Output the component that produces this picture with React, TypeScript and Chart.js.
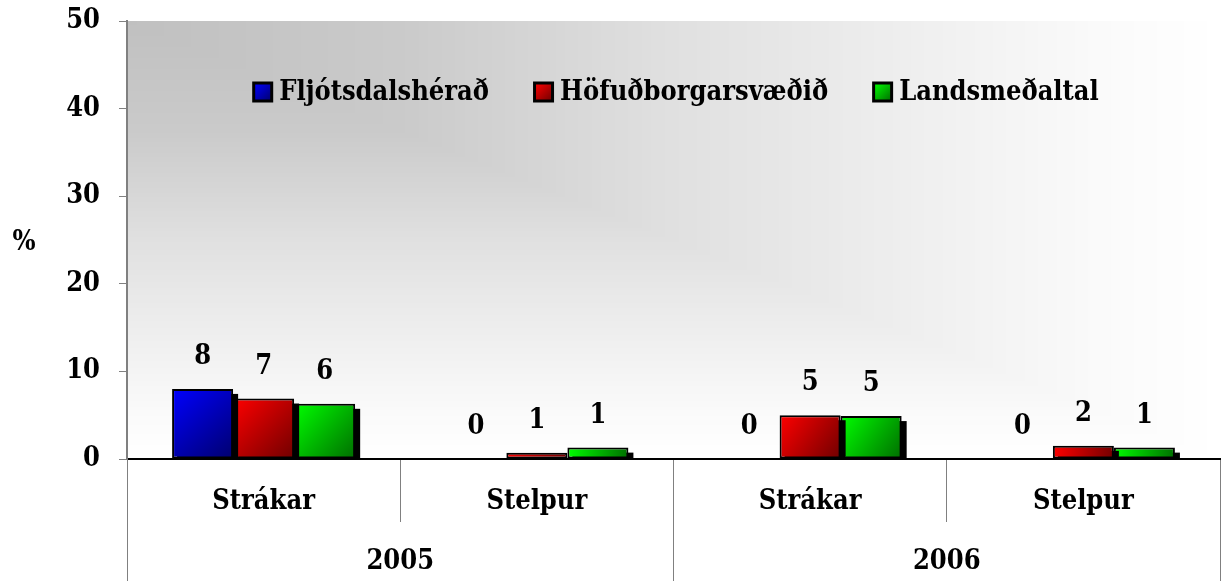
import React, { useEffect, useRef } from 'react';
import { Chart, registerables } from 'chart.js';

Chart.register(...registerables);

const subCategories = ['Strákar', 'Stelpur', 'Strákar', 'Stelpur'];
const years = ['2005', '2006'];
const seriesNames = ['Fljótsdalshérað', 'Höfuðborgarsvæðið', 'Landsmeðaltal'];
const fljotsdalsherad = [8.0, 0, 0, 0];
const hofudborgarsvaedid = [6.9, 0.7, 5.0, 1.5];
const landsmedaltal = [6.3, 1.3, 4.9, 1.3];
const yTicks = [0, 10, 20, 30, 40, 50];
const yTitle = '%';

const seriesColors: [string, string][] = [
  ['#0000ff', '#00006e'],
  ['#ff0000', '#700000'],
  ['#00ff00', '#006e00'],
];

// rectangular background gradient from the top-left corner: [position, grey level]
const bgStops: [number, number][] = [
  [0, 192],
  [0.25, 202],
  [0.5, 224],
  [0.71, 238],
  [0.89, 250],
  [1, 255],
];

const FONT_FAMILY = "'DejaVu Serif Condensed', 'DejaVu Serif', serif";
const FONT_SIZE = 27;
const font = { family: FONT_FAMILY, size: FONT_SIZE, weight: 'bold' as const };

function greyAt(t: number) {
  for (let i = 1; i < bgStops.length; i++) {
    const [p0, g0] = bgStops[i - 1];
    const [p1, g1] = bgStops[i];
    if (t <= p1) return Math.round(g0 + ((t - p0) / (p1 - p0)) * (g1 - g0));
  }
  return 255;
}

const customPlugin = {
  id: 'customLook',
  beforeDraw(chart: any) {
    const { ctx, chartArea: a } = chart;
    const W = a.right - a.left;
    const H = a.bottom - a.top;
    ctx.save();
    const steps = 240;
    for (let s = steps; s >= 0; s--) {
      const t = s / steps;
      const g = greyAt(t);
      ctx.fillStyle = `rgb(${g},${g},${g})`;
      const w = s === steps ? W : Math.max(W * t, 1);
      const h = s === steps ? H : Math.max(H * t, 1);
      ctx.fillRect(a.left, a.top, Math.ceil(w), Math.ceil(h));
    }
    ctx.restore();
  },
  beforeDatasetDraw(chart: any, args: any) {
    const { ctx, chartArea: a } = chart;
    const [c1, c2] = seriesColors[args.index];
    ctx.save();
    ctx.beginPath();
    ctx.rect(a.left, a.top, a.right - a.left, a.bottom - a.top);
    ctx.clip();
    ctx.fillStyle = '#000';
    args.meta.data.forEach((el: any) => {
      const left = el.x - el.width / 2;
      const top = Math.min(el.y, el.base);
      const h = Math.abs(el.base - el.y);
      if (h > 0) ctx.fillRect(left + 5, top + 5, el.width, h);
      const g = ctx.createLinearGradient(left, el.y, left + el.width, el.base);
      g.addColorStop(0, c1);
      g.addColorStop(1, c2);
      el.options = { ...el.options, backgroundColor: g };
    });
    ctx.restore();
  },
  afterDatasetsDraw(chart: any) {
    const { ctx } = chart;
    ctx.save();
    ctx.font = `bold ${FONT_SIZE}px ${FONT_FAMILY}`;
    ctx.fillStyle = '#000';
    ctx.textAlign = 'center';
    ctx.textBaseline = 'middle';
    chart.data.datasets.forEach((ds: any, di: number) => {
      const meta = chart.getDatasetMeta(di);
      meta.data.forEach((el: any, i: number) => {
        const v = ds.data[i] as number;
        ctx.fillText(String(Math.round(v)), el.x, el.y - 32);
      });
    });
    ctx.restore();
  },
  afterDraw(chart: any) {
    const { ctx, chartArea: a } = chart;
    ctx.save();
    ctx.font = `bold ${FONT_SIZE}px ${FONT_FAMILY}`;
    ctx.fillStyle = '#000';
    ctx.textBaseline = 'middle';
    ctx.textAlign = 'center';
    ctx.fillText(yTitle, 24, 243);
    ctx.textAlign = 'left';
    const box = 21;
    const gapText = 6;
    const gapItems = 44;
    const items = chart.data.datasets.map((d: any, i: number) => ({
      text: d.label as string,
      colors: seriesColors[i],
      w: box + gapText + ctx.measureText(d.label).width,
    }));
    const total = items.reduce((s: number, it: any) => s + it.w, 0) + gapItems * (items.length - 1);
    let x = (a.left + a.right) / 2 + 2 - total / 2;
    const y = 92;
    items.forEach((it: any) => {
      ctx.fillStyle = '#000';
      ctx.fillRect(x, y - box / 2, box, box);
      const g = ctx.createLinearGradient(x + 2, y - box / 2 + 2, x + box - 2, y + box / 2 - 2);
      g.addColorStop(0, it.colors[0]);
      g.addColorStop(1, it.colors[1]);
      ctx.fillStyle = g;
      ctx.fillRect(x + 3, y - box / 2 + 3, box - 6, box - 6);
      ctx.fillStyle = '#000';
      ctx.fillText(it.text, x + box + gapText, y + 1);
      x += it.w + gapItems;
    });
    ctx.restore();
  },
};

export default function App() {
  const canvasRef = useRef<HTMLCanvasElement | null>(null);

  useEffect(() => {
    if (!canvasRef.current) return;
    const seriesData = [fljotsdalsherad, hofudborgarsvaedid, landsmedaltal];
    const chart = new Chart(canvasRef.current, {
      type: 'bar',
      data: {
        labels: subCategories,
        datasets: seriesNames.map((name, i) => ({
          label: name,
          data: seriesData[i],
          backgroundColor: seriesColors[i][0],
          borderColor: '#000000',
          borderWidth: 2,
          borderSkipped: false,
          xAxisID: 'x',
          yAxisID: 'y',
        })),
      },
      options: {
        responsive: false,
        animation: false,
        events: [],
        layout: { padding: { top: 21, right: 4, left: 0, bottom: 0 } },
        plugins: {
          legend: { display: false },
          tooltip: { enabled: false },
          title: { display: false },
        },
        datasets: { bar: { categoryPercentage: 0.67, barPercentage: 1 } },
        scales: {
          x: {
            type: 'category',
            position: 'bottom',
            weight: 0,
            offset: true,
            grid: { offset: true, drawOnChartArea: false, tickLength: 63, color: '#808080', lineWidth: 1 },
            border: { color: '#000000', width: 2 },
            ticks: { padding: -36, font, color: '#000', maxRotation: 0, autoSkip: false },
            afterFit: (s: any) => { s.height = 63; s.paddingTop = 0; s.paddingBottom = 0; },
          },
          x2: {
            type: 'category',
            labels: years,
            position: 'bottom',
            weight: 1,
            offset: true,
            grid: { offset: true, drawOnChartArea: false, tickLength: 59, color: '#808080', lineWidth: 1 },
            border: { display: false },
            ticks: { padding: -35, font, color: '#000', maxRotation: 0, autoSkip: false },
            afterFit: (s: any) => { s.height = 59; s.paddingTop = 0; s.paddingBottom = 0; },
          },
          y: {
            min: 0,
            max: 50,
            grid: { drawOnChartArea: false, tickLength: 8, color: '#808080' },
            border: { color: '#808080', width: 2 },
            ticks: { padding: 19, font, color: '#000' },
            afterBuildTicks: (s: any) => { s.ticks = yTicks.map((v) => ({ value: v })); },
            afterFit: (s: any) => { s.width = 127; s.paddingTop = 0; s.paddingBottom = 0; },
          },
        },
      } as any,
      plugins: [customPlugin],
    });
    return () => chart.destroy();
  }, []);

  return (
    <div style={{ position: 'absolute', left: 0, top: 0, width: 1224, height: 581, background: '#fff' }}>
      <canvas ref={canvasRef} width={1224} height={581} style={{ display: 'block' }} />
    </div>
  );
}
